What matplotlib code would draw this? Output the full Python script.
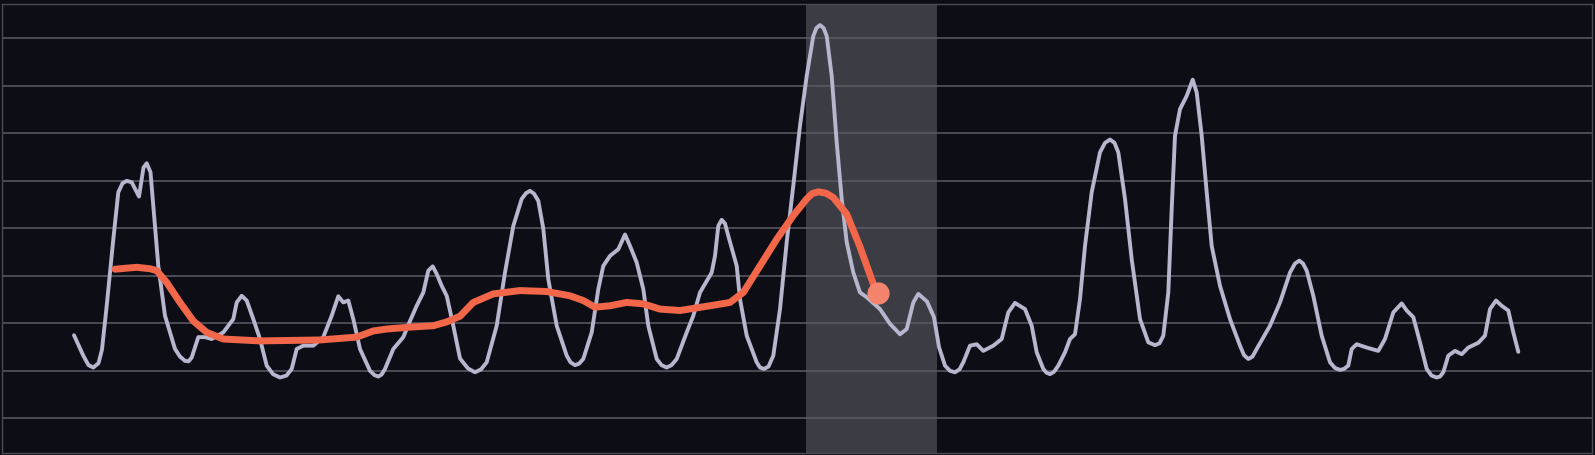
import matplotlib
matplotlib.use("Agg")
import matplotlib.pyplot as plt

# signal (lavender) - x position, value
sig_x = [74, 83.3, 88.5, 93.3, 98.5, 102, 106.7, 113.3, 118.3, 122.5, 126.7, 131.7, 139, 143.5, 146.7,
         150.5, 153.3, 158.3, 165, 175, 180, 185, 188.5, 191.7, 198.3, 205, 211.7, 223.3, 233.3,
         236.7, 241.7, 246.7, 253.3, 260, 266.7, 273, 280, 286.5, 291.7, 296.7, 303.3, 313.3, 323.3,
         331.7, 338.3, 343.3, 348.3, 353.3, 360, 370, 374.5, 378.3, 381.5, 385, 393.3, 403.3, 410,
         416.7, 423.3, 428.3, 432.7, 436.7, 441.7, 446.7, 453.3, 460, 468, 475, 481, 486.7, 496.7,
         505, 513.3, 521.7, 526, 530, 534, 538.3, 543.3, 548.3, 556.7, 566.7, 570.5, 575, 579,
         583.3, 591.7, 598.3, 603.3, 610, 618.3, 625, 630, 636.7, 643.3, 648.3, 656.7, 661.5,
         666.7, 671.5, 676.7, 686.7, 693.3, 700, 711.7, 715, 718.3, 721.7, 725, 728.3, 736.7,
         740, 746.7, 756.7, 760, 764, 768.5, 773.3, 780, 786.7, 793.3, 800, 806.7, 813.3, 816.5,
         820, 823.5, 826.7, 831.7, 836.7, 841.7, 846.7, 853.3, 860, 866.7, 880, 890, 900, 906.7,
         913.3, 918.3, 927, 934, 939, 945, 950, 955, 959.5, 963.3, 970, 976.7, 983.3, 993.3,
         1001.7, 1008.3, 1015, 1025, 1031.7, 1036.7, 1043.3, 1046.5, 1050, 1054, 1058.3, 1065,
         1070, 1075, 1080, 1085, 1091.7, 1100, 1105, 1110, 1114.5, 1118.3, 1125, 1131.7, 1140,
         1148.3, 1155, 1159.5, 1163.3, 1168.3, 1171.7, 1175, 1180, 1186.7, 1192.7, 1196.7,
         1201.7, 1206.7, 1211.7, 1220, 1230, 1240, 1244, 1248.3, 1252.5, 1256.7, 1270, 1280,
         1290, 1295, 1299.3, 1303, 1306.7, 1313.3, 1321.7, 1330, 1335, 1340, 1344, 1348.3,
         1351.7, 1356.7, 1366.7, 1378.3, 1385, 1393.3, 1401.7, 1406.7, 1413.3, 1420, 1426.7,
         1431.5, 1436.7, 1440, 1443.3, 1448.3, 1455, 1461.7, 1468.3, 1478.3, 1485, 1490, 1496,
         1501.7, 1508.3, 1513.3, 1518.3]
sig_y = [27.5, 23.2, 21.2, 20.7, 21.6, 24.5, 33.7, 47.7, 57.6, 59.5, 60.0, 59.7, 56.7, 62.8, 63.7,
         61.8, 54.8, 42.1, 31.6, 24.6, 23.0, 22.1, 22.0, 22.8, 27.1, 27.1, 26.7, 28.1, 30.9,
         34.4, 35.8, 34.8, 30.9, 26.7, 21.1, 19.3, 18.6, 19.0, 20.4, 24.6, 25.3, 25.3, 27.1,
         31.6, 35.7, 34.4, 34.8, 30.9, 24.6, 20.0, 19.1, 18.8, 19.2, 20.4, 24.6, 27.1, 30.5,
         33.7, 36.5, 41.1, 42.0, 40.4, 37.9, 35.8, 29.5, 22.6, 20.5, 19.7, 20.3, 21.8, 29.5,
         40.7, 50.5, 56.2, 57.4, 57.9, 57.3, 55.8, 49.9, 39.3, 29.5, 23.2, 21.8, 21.2, 21.5,
         22.5, 28.1, 37.2, 42.1, 44.2, 45.6, 48.7, 46.3, 42.8, 37.2, 29.5, 22.5, 21.2,
         20.7, 21.2, 22.5, 28.1, 31.6, 36.5, 40.7, 44.2, 50.5, 51.8, 51.0, 48.4, 42.1,
         35.1, 27.4, 21.8, 20.7, 20.4, 20.9, 23.2, 33.0, 47.1, 59.0, 71.6, 82.1, 90.5, 92.2,
         92.8, 92.2, 90.5, 82.1, 68.1, 56.2, 47.1, 40.7, 36.5, 35.5, 33.0, 29.9, 27.7, 28.8,
         34.4, 36.2, 34.6, 31.3, 25.0, 21.1, 20.0, 19.7, 20.3, 21.8, 25.3, 25.6, 24.2, 25.3,
         26.7, 32.3, 34.3, 33.0, 29.5, 23.9, 20.4, 19.6, 19.3, 19.8, 21.1, 23.9,
         26.7, 27.7, 35.1, 46.3, 57.6, 66.0, 68.0, 68.7, 68.0, 66.0, 56.2, 43.5, 30.9,
         26.0, 25.4, 25.8, 27.4, 36.5, 54.1, 69.5, 75.1, 77.9, 81.3, 78.6,
         69.5, 57.6, 46.3, 37.9, 30.9, 25.3, 23.3, 22.5, 23.0, 24.6, 29.5, 34.4,
         40.7, 42.6, 43.2, 42.6, 41.1, 35.8, 27.4, 21.8, 20.6, 20.2, 20.4, 21.1,
         24.6, 25.6, 24.9, 24.2, 26.7, 32.3, 34.2, 32.7, 31.3, 26.0, 20.4,
         19.0, 18.6, 18.8, 19.7, 23.2, 24.2, 23.5, 24.9, 25.9, 27.4, 33.0, 34.8,
         33.7, 32.7, 28.1, 24.0]

# smoothed trend (orange)
trend_x = [115, 136.7, 150, 156.7, 166.7, 180, 193.3, 206.7, 223.3, 260, 320, 356.7, 373.3, 386.7,
           410, 433.3, 446.7, 460, 473.3, 493.3, 520, 546.7, 570, 583.3, 595, 610, 626.7, 643.3,
           660, 680, 710, 730, 743.3, 760, 776.7, 793.3, 806.7, 812, 818.3, 826, 833.3, 846.7,
           860, 873.3, 878.3]
trend_y = [41.4, 41.8, 41.5, 41.1, 38.6, 34.4, 30.5, 28.1, 26.7, 26.3, 26.5, 27.1, 28.4, 28.8,
           29.2, 29.5, 30.3, 31.5, 34.4, 36.2, 36.9, 36.7, 35.8, 34.8, 33.4, 33.7, 34.4, 34.1,
           33.0, 32.7, 33.7, 34.4, 36.5, 42.1, 47.7, 52.7, 56.2, 57.3, 57.7, 57.4, 56.5, 53.0,
           46.1, 38.3, 36.4]

band_start, band_end = 806, 937
grid_levels = [10, 20, 30, 40, 50, 60, 70, 80, 90]

BG = "#0d0e15"

fig = plt.figure(figsize=(15.95, 4.56), dpi=100, facecolor=BG)
ax = fig.add_axes([2 / 1595, 2 / 456, 1590 / 1595, 449.3 / 456])
ax.set_facecolor(BG)

ax.axvspan(band_start, band_end, color="#3c3d44", zorder=0, lw=0)
for g in grid_levels:
    ax.axhline(g, color="#5a5b65", lw=1.1, zorder=1)

ax.plot(sig_x, sig_y, color="#b6b6cf", lw=2.8, zorder=3,
        solid_joinstyle="round", solid_capstyle="round")
ax.plot(trend_x, trend_y, color="#f2664a", lw=5.0, zorder=4,
        solid_joinstyle="round", solid_capstyle="round")
ax.plot(trend_x[-1], trend_y[-1], "o", color="#f5846c", ms=16, mec="none", zorder=5)

ax.set_xlim(2, 1592)
ax.set_ylim(2.7, 97.3)
ax.set_xticks([])
ax.set_yticks([])
for s in ax.spines.values():
    s.set_color("#4a4b55")
    s.set_linewidth(1.0)

fig.savefig("out.png", dpi=100, facecolor=BG)
